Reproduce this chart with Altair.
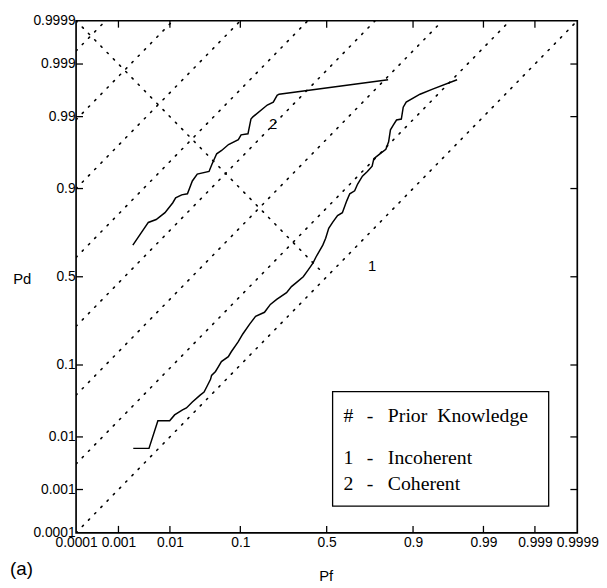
import altair as alt
import pandas as pd
from statistics import NormalDist

z = NormalDist().inv_cdf

# ---- data (probabilities) ----
tick_probs = [0.0001, 0.001, 0.01, 0.1, 0.5, 0.9, 0.99, 0.999, 0.9999]
tick_labels = ["0.0001", "0.001", "0.01", "0.1", "0.5", "0.9", "0.99", "0.999", "0.9999"]

incoh_pf = [0.00205, 0.00418, 0.00612, 0.0099, 0.0120, 0.0162, 0.0187, 0.0231, 0.0302, 0.0344,
            0.0379, 0.0424, 0.0438, 0.0495, 0.0541, 0.0591, 0.0722, 0.0784, 0.0944, 0.1066,
            0.1265, 0.1457, 0.178, 0.2016, 0.229, 0.2757, 0.3005, 0.326, 0.364, 0.392,
            0.420, 0.437, 0.477, 0.494, 0.512, 0.535, 0.564, 0.592, 0.617, 0.634,
            0.661, 0.677, 0.702, 0.727, 0.750, 0.758, 0.781, 0.810, 0.821, 0.828,
            0.839, 0.850, 0.866, 0.872, 0.881, 0.917, 0.942, 0.9735]
incoh_pd = [0.00634, 0.00634, 0.0182, 0.0182, 0.0224, 0.0266, 0.0284, 0.0345, 0.0428, 0.0469,
            0.0559, 0.0681, 0.0760, 0.0845, 0.0962, 0.109, 0.123, 0.138, 0.172, 0.203,
            0.246, 0.283, 0.303, 0.344, 0.371, 0.409, 0.443, 0.466, 0.5, 0.540,
            0.580, 0.613, 0.677, 0.712, 0.759, 0.785, 0.813, 0.824, 0.865, 0.886,
            0.894, 0.911, 0.928, 0.937, 0.946, 0.957, 0.962, 0.968, 0.975, 0.9836,
            0.9863, 0.9886, 0.9890, 0.9931, 0.9944, 0.9960, 0.9968, 0.9979]

coh_pf = [0.00201, 0.00406, 0.0057, 0.0082, 0.0112, 0.0125, 0.0157, 0.0194, 0.0215, 0.0231,
          0.0274, 0.0404, 0.0443, 0.0513, 0.0595, 0.0726, 0.0949, 0.102, 0.1214, 0.1305,
          0.1368, 0.189, 0.214, 0.231, 0.240, 0.819]
coh_pd = [0.677, 0.785, 0.797, 0.824, 0.859, 0.874, 0.883, 0.886, 0.906, 0.918,
          0.932, 0.937, 0.949, 0.963, 0.9667, 0.9726, 0.9768, 0.9804, 0.9811, 0.9890,
          0.9899, 0.9937, 0.9944, 0.9958, 0.9960, 0.9979]

diag_offsets = [0, 1, 2, 3, 4, 5, 6, 7]      # d' of the constant-detectability lines
anti_pf = [0.0001, 0.48]                     # Pd = 1 - Pf line

curve_names = ["1", "2"]
curve_label_pf = [0.75, 0.2136]
curve_label_pd = [0.56, 0.9868]

legend_keys = ["#", "1", "2"]
legend_texts = ["Prior\u00a0\u00a0Knowledge", "Incoherent", "Coherent"]

# ---- build tables ----
L = z(0.9999)
W, H = 508, 519

rows = []
for i, (a, b) in enumerate(zip(incoh_pf, incoh_pd)):
    rows.append({"series": "1", "i": i, "zf": z(a), "zd": z(b)})
for i, (a, b) in enumerate(zip(coh_pf, coh_pd)):
    rows.append({"series": "2", "i": i, "zf": z(a), "zd": z(b)})
curves = pd.DataFrame(rows)

drows = []
for d in diag_offsets:
    drows.append({"line": f"d{d}", "i": 0, "zf": -L, "zd": -L + d})
    drows.append({"line": f"d{d}", "i": 1, "zf": L - d, "zd": L})
for i, p in enumerate(anti_pf):
    drows.append({"line": "anti", "i": i, "zf": z(p), "zd": z(1 - p)})
dots = pd.DataFrame(drows)

tick_z = [z(p) for p in tick_probs]
inner = pd.DataFrame({"zf": tick_z[1:-1], "zd": tick_z[1:-1]})

labels_df = pd.DataFrame({"t": curve_names,
                          "zf": [z(p) for p in curve_label_pf],
                          "zd": [z(p) for p in curve_label_pd]})

# label expression from tick lists
expr = f"'{tick_labels[-1]}'"
for k in range(len(tick_z) - 2, -1, -1):
    thr = (tick_z[k] + tick_z[k + 1]) / 2
    expr = f"datum.value < {thr:.4f} ? '{tick_labels[k]}' : ({expr})"

scale = alt.Scale(domain=[-L, L], nice=False, zero=False)
xaxis = alt.Axis(values=tick_z, labelExpr=expr, ticks=False, domain=False, grid=False,
                 labelOverlap=False, labelBound=False, labelFlush=False, labelPadding=3,
                 title="Pf", titleX=253, titleY=43, titleAngle=0, titleAlign="center",
                 titleBaseline="middle", titleFontSize=15, titleFontWeight="normal")
yaxis = alt.Axis(values=tick_z, labelExpr=expr, ticks=False, domain=False, grid=False,
                 labelOverlap=False, labelBound=False, labelFlush=False, labelPadding=1,
                 title="Pd", titleX=-55, titleY=261, titleAngle=0, titleAlign="center",
                 titleBaseline="middle", titleFontSize=15, titleFontWeight="normal")
X = alt.X("zf:Q", scale=scale, axis=xaxis)
Y = alt.Y("zd:Q", scale=scale, axis=yaxis)

dotted = alt.Chart(dots).mark_line(color="black", strokeWidth=1.6, strokeDash=[1.5, 7.5],
                                   strokeCap="round", clip=True).encode(
    x=X, y=Y, detail="line:N", order="i:Q")

lines = alt.Chart(curves).mark_line(color="black", strokeWidth=1.5, clip=True).encode(
    x=X, y=Y, detail="series:N", order="i:Q")

tick_len = 7
tb = alt.Chart(inner).mark_rule(color="black", strokeWidth=1.3).encode(
    x=X, y=alt.value(H), y2=alt.value(H - tick_len))
tt = alt.Chart(inner).mark_rule(color="black", strokeWidth=1.3).encode(
    x=X, y=alt.value(0), y2=alt.value(tick_len))
tl = alt.Chart(inner).mark_rule(color="black", strokeWidth=1.3).encode(
    y=Y, x=alt.value(0), x2=alt.value(tick_len))
tr = alt.Chart(inner).mark_rule(color="black", strokeWidth=1.3).encode(
    y=Y, x=alt.value(W), x2=alt.value(W - tick_len))

clabels = alt.Chart(labels_df).mark_text(font="Liberation Sans", fontSize=15,
                                         color="black").encode(x=X, y=Y, text="t:N")

one = alt.Data(values=[{}])
box = alt.Chart(one).mark_rect(fill="white", stroke="black", strokeWidth=1.3).encode(
    x=alt.value(260), x2=alt.value(479), y=alt.value(376), y2=alt.value(492))

leg_layers = []
row_y = [401, 443, 470]
for key, txt, yy in zip(legend_keys, legend_texts, row_y):
    leg_layers.append(alt.Chart(one).mark_text(font="Liberation Serif", fontSize=20,
                                               color="black", align="center").encode(
        x=alt.value(276), y=alt.value(yy), text=alt.value(key)))
    leg_layers.append(alt.Chart(one).mark_text(font="Liberation Serif", fontSize=20,
                                               color="black", align="center").encode(
        x=alt.value(298), y=alt.value(yy), text=alt.value("-")))
    leg_layers.append(alt.Chart(one).mark_text(font="Liberation Serif", fontSize=20,
                                               color="black", align="left").encode(
        x=alt.value(316), y=alt.value(yy), text=alt.value(txt)))

panel = alt.Chart(one).mark_text(font="Liberation Sans", fontSize=19, color="black",
                                 align="left").encode(
    x=alt.value(-67), y=alt.value(556), text=alt.value("(a)"))

chart = alt.layer(dotted, lines, tb, tt, tl, tr, clabels, box, *leg_layers, panel).properties(
    width=W, height=H,
    autosize=alt.AutoSizeParams(type="none"),
    padding={"left": 69, "top": 9, "right": 22, "bottom": 50},
).configure_view(stroke="black", strokeWidth=1.7).configure_axis(
    labelFont="Liberation Sans", labelFontSize=14, labelColor="black",
    titleFont="Liberation Sans", titleColor="black")

chart.save("out.html", embed_options={"renderer": "svg", "actions": False})
